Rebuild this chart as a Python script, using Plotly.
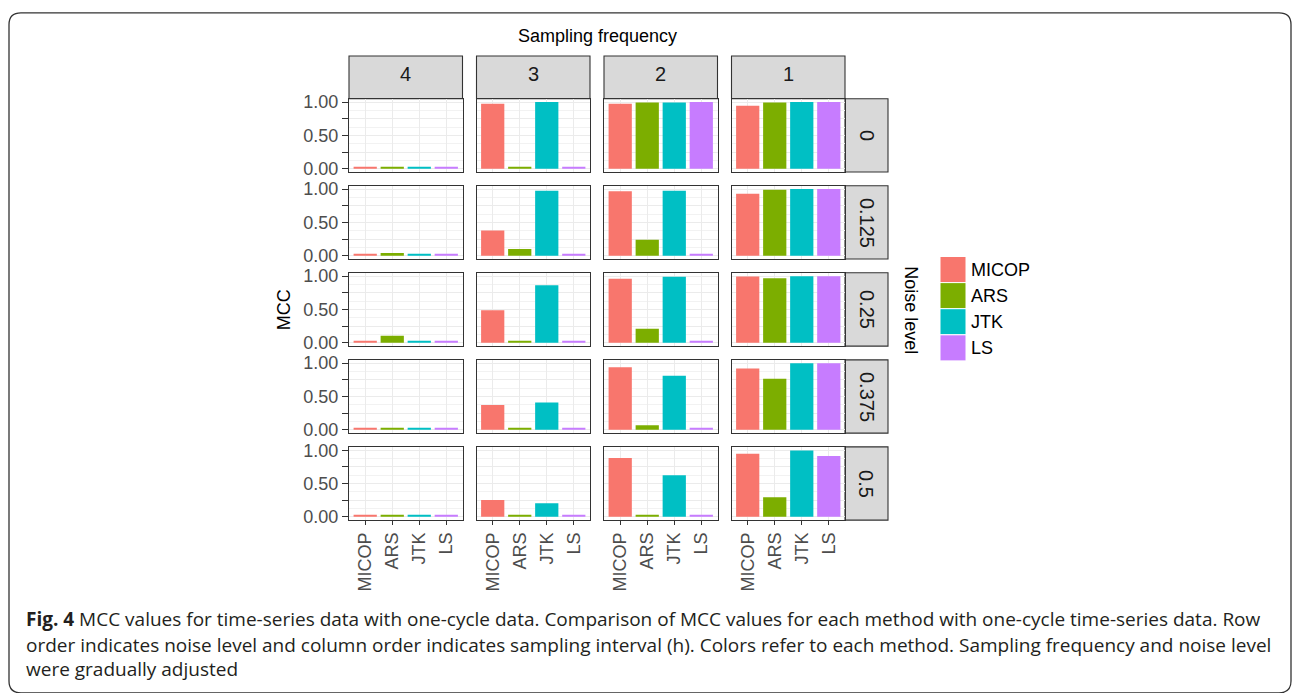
import plotly.graph_objects as go

# ---------------- data ----------------
methods = ["MICOP", "ARS", "JTK", "LS"]
freq_labels = ["4", "3", "2", "1"]            # facet columns (sampling frequency)
noise_labels = ["0", "0.125", "0.25", "0.375", "0.5"]   # facet rows (noise level)

# rows = noise level, columns = sampling frequency (4, 3, 2, 1)
micop = [[0.02, 0.975, 0.975, 0.946],
         [0.02, 0.377, 0.966, 0.930],
         [0.02, 0.488, 0.961, 0.995],
         [0.02, 0.373, 0.940, 0.920],
         [0.02, 0.254, 0.883, 0.946]]
ars = [[0.02, 0.02, 0.995, 0.995],
       [0.04, 0.100, 0.240, 0.990],
       [0.107, 0.02, 0.210, 0.970],
       [0.02, 0.02, 0.069, 0.765],
       [0.02, 0.02, 0.02, 0.293]]
jtk = [[0.02, 1.000, 0.995, 1.000],
       [0.02, 0.976, 0.976, 1.000],
       [0.02, 0.863, 0.990, 1.000],
       [0.02, 0.410, 0.810, 1.000],
       [0.02, 0.205, 0.624, 0.995]]
ls = [[0.02, 0.02, 1.000, 1.000],
      [0.02, 0.02, 0.02, 1.000],
      [0.02, 0.02, 0.02, 1.000],
      [0.02, 0.02, 0.02, 1.000],
      [0.02, 0.02, 0.02, 0.912]]
series = [micop, ars, jtk, ls]
colors = ["#F8766D", "#7CAE00", "#00BFC4", "#C77CFF"]

caption_lines = [
    "<b>Fig. 4</b> MCC values for time-series data with one-cycle data. Comparison of MCC values for each method with one-cycle time-series data. Row",
    "order indicates noise level and column order indicates sampling interval (h). Colors refer to each method. Sampling frequency and noise level",
    "were gradually adjusted",
]

# ---------------- layout geometry (pixels) ----------------
W, H = 1293, 693
def px(x):
    return x / W
def py(y):
    return 1 - y / H

col_left0, col_pitch, col_w = 349.0, 127.5, 113.5
row_top0, row_pitch, row_h = 94.5, 88.7, 74.7
strip_top, strip_bot = 51.0, 94.5
rstrip_l, rstrip_r = 845.0, 888.0

FONT = "Liberation Sans, Arial, Helvetica, sans-serif"
fig = go.Figure()
layout = dict(
    width=W, height=H, autosize=False,
    margin=dict(l=0, r=0, t=0, b=0),
    paper_bgcolor="white", plot_bgcolor="white",
    showlegend=False,
    font=dict(family=FONT, size=18, color="#000000"),
)
shapes, annotations = [], []

nrows, ncols = len(noise_labels), len(freq_labels)
for r in range(nrows):
    for c in range(ncols):
        k = r * ncols + c + 1
        xa, ya = f"x{k}", f"y{k}"
        xname = "xaxis" if k == 1 else f"xaxis{k}"
        yname = "yaxis" if k == 1 else f"yaxis{k}"
        yvals = [s[r][c] for s in series]
        fig.add_trace(go.Bar(x=methods, y=yvals, marker=dict(color=colors, line=dict(width=0)),
                             width=0.86, xaxis=xa, yaxis=ya, hoverinfo="x+y"))
        x0 = col_left0 + c * col_pitch
        y0 = row_top0 + r * row_pitch
        layout[xname] = dict(
            domain=[px(x0), px(x0 + col_w)], anchor=ya,
            type="category", categoryorder="array", categoryarray=methods,
            range=[-0.6, 3.6], showgrid=True, gridcolor="#EBEBEB", gridwidth=1.1,
            showline=True, mirror=True, linecolor="#333333", linewidth=1.1,
            zeroline=False, fixedrange=True,
            ticks="outside" if r == nrows - 1 else "", ticklen=4, tickcolor="#333333",
            showticklabels=(r == nrows - 1), tickangle=-90,
            tickfont=dict(size=18, color="#4D4D4D", family=FONT),
        )
        layout[yname] = dict(
            domain=[py(y0 + row_h), py(y0)], anchor=xa,
            range=[-0.05, 1.05], showgrid=True, gridcolor="#EBEBEB", gridwidth=1.1,
            tickvals=[0, 0.25, 0.5, 0.75, 1.0],
            ticktext=["0.00", "", "0.50", "", "1.00"],
            minor=dict(tickvals=[0.125, 0.375, 0.625, 0.875], showgrid=True,
                       gridcolor="#F2F2F2", gridwidth=0.6),
            showline=True, mirror=True, linecolor="#333333", linewidth=1.1,
            zeroline=False, fixedrange=True,
            ticks="outside" if c == 0 else "", ticklen=6, tickcolor="#333333",
            showticklabels=(c == 0),
            tickfont=dict(size=18, color="#4D4D4D", family=FONT),
        )

# top strips (sampling frequency)
for c, lab in enumerate(freq_labels):
    x0 = col_left0 + c * col_pitch
    shapes.append(dict(type="rect", xref="paper", yref="paper",
                       x0=px(x0), x1=px(x0 + col_w), y0=py(strip_bot), y1=py(strip_top),
                       fillcolor="#D9D9D9", line=dict(color="#333333", width=1.1), layer="below"))
    annotations.append(dict(xref="paper", yref="paper", x=px(x0 + col_w / 2),
                            y=py((strip_top + strip_bot) / 2 - 3), text=lab, showarrow=False,
                            font=dict(size=20, color="#1A1A1A"), xanchor="center", yanchor="middle"))

# right strips (noise level)
for r, lab in enumerate(noise_labels):
    y0 = row_top0 + r * row_pitch
    shapes.append(dict(type="rect", xref="paper", yref="paper",
                       x0=px(rstrip_l), x1=px(rstrip_r), y0=py(y0 + row_h), y1=py(y0),
                       fillcolor="#D9D9D9", line=dict(color="#333333", width=1.1), layer="below"))
    annotations.append(dict(xref="paper", yref="paper", x=px((rstrip_l + rstrip_r) / 2),
                            y=py(y0 + row_h / 2), text=lab, showarrow=False, textangle=90,
                            font=dict(size=20, color="#1A1A1A"), xanchor="center", yanchor="middle"))

# titles
annotations.append(dict(xref="paper", yref="paper", x=px(597), y=py(31), text="Sampling frequency",
                        showarrow=False, font=dict(size=18, color="#000000"),
                        xanchor="center", yanchor="middle"))
annotations.append(dict(xref="paper", yref="paper", x=px(284), y=py(310), text="MCC",
                        showarrow=False, textangle=-90, font=dict(size=18, color="#000000"),
                        xanchor="center", yanchor="middle"))
annotations.append(dict(xref="paper", yref="paper", x=px(911), y=py(310), text="Noise level",
                        showarrow=False, textangle=90, font=dict(size=18, color="#000000"),
                        xanchor="center", yanchor="middle"))

# legend keys
key_x0, key_x1, key_top, key_h = 940.0, 966.0, 255.3, 26.6
for i, (m, col) in enumerate(zip(methods, colors)):
    t = key_top + i * key_h
    shapes.append(dict(type="rect", xref="paper", yref="paper",
                       x0=px(key_x0), x1=px(key_x1), y0=py(t + key_h), y1=py(t),
                       fillcolor=col, line=dict(color="white", width=1)))
    annotations.append(dict(xref="paper", yref="paper", x=px(969), y=py(t + key_h / 2), text=m,
                            showarrow=False, font=dict(size=18, color="#000000"),
                            xanchor="left", yanchor="middle"))

# caption
for i, (line, yc) in enumerate(zip(caption_lines, [625, 651, 676])):
    annotations.append(dict(xref="paper", yref="paper", x=px(24), y=py(yc), text=line,
                            showarrow=False, font=dict(size=19.0, color="#231F20", family="Open Sans, sans-serif"),
                            xanchor="left", yanchor="middle"))

# outer rounded frame
bx0, by0, bx1, by1, rad = 9.0, 7.0, 1291.0, 700.0, 12.0
path = (f"M {px(bx0+rad)},{py(by0)} L {px(bx1-rad)},{py(by0)} Q {px(bx1)},{py(by0)} {px(bx1)},{py(by0+rad)} "
        f"L {px(bx1)},{py(by1-rad)} Q {px(bx1)},{py(by1)} {px(bx1-rad)},{py(by1)} "
        f"L {px(bx0+rad)},{py(by1)} Q {px(bx0)},{py(by1)} {px(bx0)},{py(by1-rad)} "
        f"L {px(bx0)},{py(by0+rad)} Q {px(bx0)},{py(by0)} {px(bx0+rad)},{py(by0)} Z")
shapes.append(dict(type="path", xref="paper", yref="paper", path=path,
                   line=dict(color="#333333", width=1.3)))

layout["shapes"] = shapes
layout["annotations"] = annotations
fig.update_layout(**layout)
fig.write_html(
    "out.html",
    config={"displayModeBar": False},
    post_script="document.body.style.margin='0';document.body.style.overflow='hidden';"
                "document.documentElement.style.overflow='hidden';",
)
